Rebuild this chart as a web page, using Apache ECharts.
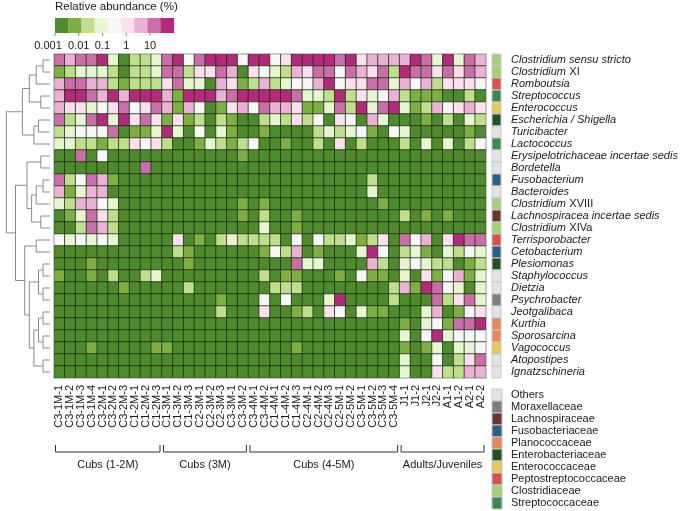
<!DOCTYPE html>
<html><head><meta charset="utf-8">
<script src="https://cdn.jsdelivr.net/npm/echarts@6/dist/echarts.min.js"></script>
<style>html,body{margin:0;padding:0;background:#fff}#c{width:685px;height:511px}</style>
</head><body><div id="c"></div>
<script>
// ---- data ----
const samples = ['C3-1M-1','C3-1M-2','C3-1M-3','C3-1M-4','C3-2M-1','C3-2M-2','C3-2M-3','C1-2M-1','C1-2M-2','C1-2M-3',
 'C1-3M-1','C1-3M-2','C1-3M-3','C2-3M-1','C2-3M-2','C2-3M-3','C3-3M-1','C3-3M-2',
 'C3-4M-1','C3-4M-2','C1-4M-1','C1-4M-2','C1-4M-3','C2-4M-1','C2-4M-2','C2-4M-3','C2-5M-1','C2-5M-2','C3-5M-1','C3-5M-2','C3-5M-3','C3-5M-4',
 'J1-1','J1-2','J2-1','J2-2','A1-1','A1-2','A2-1','A2-2'];
const groupNames = ['Cubs (1-2M)','Cubs (3M)','Cubs (4-5M)','Adults/Juveniles'];
const groupSizes = [10, 8, 14, 8];
const genera = ['Clostridium sensu stricto','Clostridium XI','Romboutsia','Streptococcus','Enterococcus','Escherichia / Shigella',
 'Turicibacter','Lactococcus','Erysipelotrichaceae incertae sedis','Bordetella','Fusobacterium','Bacteroides','Clostridium XVIII',
 'Lachnospiracea incertae sedis','Clostridium XIVa','Terrisporobacter','Cetobacterium','Plesiomonas','Staphylococcus','Dietzia',
 'Psychrobacter','Jeotgalibaca','Kurthia','Sporosarcina','Vagococcus','Atopostipes','Ignatzschineria'];
const genusFamily = ['Clostridiaceae','Clostridiaceae','Peptostreptococcaceae','Streptococcaceae','Enterococcaceae','Enterobacteriaceae',
 'Others','Streptococcaceae','Others','Others','Fusobacteriaceae','Others','Clostridiaceae',
 'Lachnospiraceae','Clostridiaceae','Peptostreptococcaceae','Fusobacteriaceae','Enterobacteriaceae','Others','Others',
 'Moraxellaceae','Others','Planococcaceae','Planococcaceae','Enterococcaceae','Others','Others'];
const families = ['Others','Moraxellaceae','Lachnospiraceae','Fusobacteriaceae','Planococcaceae','Enterobacteriaceae','Enterococcaceae','Peptostreptococcaceae','Clostridiaceae','Streptococcaceae'];
const familyColors = ['#e2e2e2','#7d7d7d','#6e3232','#2d5e89','#e8875a','#22502b','#e6c85c','#d8514f','#a8cd76','#3c8a51'];
// abundance class per genus (rows) x sample (cols): 0 = <0.001 % ... 8 = highest (colour bins of the legend)
const abundance = [
 [7,6,7,7,8,3,0,2,2,3,7,8,4,7,8,8,8,4,8,8,4,5,8,8,8,8,7,8,5,6,6,6,6,8,7,3,8,3,7,6],
 [1,2,3,3,3,2,0,2,2,3,7,7,2,5,5,7,6,0,5,4,3,2,6,5,7,7,4,7,6,5,7,2,8,7,7,5,7,5,7,6],
 [6,7,7,6,6,2,1,2,2,2,5,7,3,3,0,6,5,1,2,6,2,3,4,4,6,8,4,5,5,7,7,3,6,4,6,2,5,5,5,4],
 [6,8,8,7,6,8,6,8,8,8,6,1,8,8,8,6,7,8,8,8,8,8,7,3,3,2,8,2,5,3,4,6,2,1,1,1,0,0,2,0],
 [6,5,5,3,4,5,7,4,5,7,6,1,6,4,0,1,5,6,4,7,6,6,5,1,1,3,7,2,8,3,7,8,3,1,2,6,4,5,6,5],
 [7,2,3,7,8,3,8,5,7,5,1,5,1,2,0,2,1,0,0,2,3,2,5,2,4,0,5,4,0,6,3,0,0,0,1,0,2,0,3,2],
 [2,3,4,4,4,7,0,1,1,3,8,3,0,4,0,3,1,0,0,1,0,0,0,0,2,3,2,3,4,1,0,4,3,0,0,0,0,0,1,0],
 [3,3,2,2,1,2,2,5,4,5,2,0,0,1,3,2,1,2,4,0,0,1,0,0,2,0,5,0,2,0,0,0,2,0,3,0,3,0,2,4],
 [0,0,7,0,4,0,0,0,0,0,0,0,0,0,0,0,0,1,0,0,0,0,0,0,0,0,0,0,0,0,0,0,0,0,0,0,0,0,0,0],
 [0,0,0,0,0,0,0,0,7,0,0,0,0,0,0,0,0,0,0,0,0,0,0,0,0,0,0,0,0,0,0,0,0,0,0,0,0,0,0,0],
 [7,2,4,7,6,1,0,0,0,0,0,0,0,0,0,0,0,0,0,0,0,0,0,0,0,0,0,0,0,2,0,0,0,0,0,0,0,0,0,0],
 [6,1,3,6,6,0,0,0,0,0,0,0,0,0,0,0,0,0,0,0,0,0,0,0,0,0,0,0,0,3,0,0,0,0,0,0,0,0,0,0],
 [3,2,6,6,4,3,0,0,0,0,0,0,0,0,0,0,0,1,0,1,0,0,0,0,0,0,0,0,0,0,1,0,0,0,0,0,0,0,0,0],
 [0,1,3,7,5,2,0,0,0,0,0,0,0,0,0,0,0,1,0,2,0,0,1,0,0,0,0,0,0,0,0,0,2,0,1,0,1,0,0,0],
 [0,0,2,7,6,2,0,0,0,0,0,0,0,0,0,0,0,0,0,3,0,0,1,0,0,0,0,0,0,0,0,0,0,0,0,0,0,0,0,0],
 [4,3,4,3,4,3,0,0,0,0,0,5,0,1,0,2,3,2,2,2,2,0,4,0,4,2,2,3,1,2,5,0,7,4,6,0,5,8,7,7],
 [0,0,0,0,0,0,0,0,0,0,0,2,1,0,0,0,0,0,0,1,4,2,6,0,1,0,0,0,3,8,4,0,2,3,1,0,3,2,4,3],
 [0,0,0,1,0,0,0,0,0,0,0,0,1,0,0,0,0,0,0,0,0,0,7,3,3,0,0,0,0,6,2,0,3,4,3,2,2,0,1,2],
 [1,0,0,1,0,2,0,0,2,3,0,0,0,0,0,0,0,0,0,2,0,1,1,0,0,0,1,0,4,1,1,0,3,0,5,1,4,6,1,3],
 [0,0,0,0,0,0,1,0,0,0,0,0,2,0,0,0,0,0,0,0,2,2,2,0,0,0,0,0,0,0,0,2,6,1,8,7,4,3,0,3],
 [0,0,0,0,0,0,0,0,0,0,0,0,0,0,0,1,0,0,0,4,0,4,0,0,0,3,8,0,0,0,0,2,0,0,0,7,2,5,7,3],
 [0,0,0,0,0,0,0,0,0,0,0,0,0,0,0,2,0,0,0,5,0,0,1,2,0,5,4,0,3,1,1,0,0,0,3,6,0,1,4,5],
 [0,0,0,0,0,0,0,0,0,0,0,0,0,0,0,0,0,0,0,0,0,0,0,0,0,0,0,0,0,0,0,0,1,0,3,4,1,7,7,8],
 [0,0,0,0,0,0,0,0,0,0,0,0,0,0,0,0,0,0,0,0,0,0,0,0,0,0,0,0,0,0,0,0,3,0,4,8,3,4,4,4],
 [0,0,0,1,0,0,0,0,0,1,1,0,0,0,0,0,0,0,0,0,0,0,1,0,0,0,0,0,0,0,0,0,1,0,1,3,0,3,3,4],
 [0,0,0,0,0,0,0,0,0,0,0,0,0,0,0,0,0,0,0,0,0,0,0,0,0,0,0,0,0,0,0,0,3,0,0,4,0,2,5,7],
 [0,0,0,0,0,0,0,0,0,0,0,0,0,0,0,0,0,0,0,0,0,0,0,0,0,0,0,0,0,0,0,0,3,0,0,5,2,2,6,6]
];
const palette = ['#4f8a2f','#7fae45','#c0df8e','#e8f5d3','#f7f7f7','#fde0ef','#ebb1d6','#c96ea8','#b22a7b'];
const legendTicks = ['0.001', '0.01', '0.1', '1', '10'];
const legendMax = 100;
// dendrogram merges: [nodeA, nodeB, height 0..1]; leaves are row indices 0..26, new nodes numbered from 27
const dendroMerges = [
 [0,1,0.15],[2,27,0.3],[3,4,0.2],[28,29,0.45],[5,6,0.25],[31,7,0.35],[30,32,0.6],
 [8,9,0.2],[10,11,0.15],[35,12,0.3],[13,14,0.2],[36,37,0.4],[34,38,0.5],
 [15,16,0.3],[17,18,0.15],[19,20,0.15],[41,42,0.25],[21,22,0.15],[23,24,0.15],[44,45,0.25],[25,26,0.15],[46,47,0.35],[43,48,0.45],[40,49,0.55],[39,50,0.75],[33,51,0.95]
];

// ---- chart ----
const FONT = 'Liberation Sans, Arial, sans-serif';
const chart = echarts.init(document.getElementById('c'), null, {renderer:'canvas'});
const heatData = [];
abundance.forEach((row, r) => row.forEach((v, c) => heatData.push([c, r, v])));
const famData = genera.map((g, r) => [0, r, families.indexOf(genusFamily[r])]);

function genusLabel(v){
  const m = v.match(/^Clostridium (X[A-Za-z]+)$/);
  if (m) return '{i|Clostridium} {n|' + m[1] + '}';
  return '{i|' + v + '}';
}

const GL = 54, GT = 54, GW = 432, GH = 324;
chart.setOption({
  animation:false,
  grid:[{left:GL, top:GT, width:GW, height:GH},{left:492, top:GT, width:9, height:GH}],
  xAxis:[
    {type:'category', gridIndex:0, data:samples, axisLine:{show:false}, axisTick:{show:false},
     axisLabel:{rotate:90, interval:0, fontSize:11, color:'#1a1a1a', margin:7, fontFamily:FONT}},
    {type:'category', gridIndex:1, data:['family'], show:false}
  ],
  yAxis:[
    {type:'category', gridIndex:0, data:genera, inverse:true, show:false},
    {type:'category', gridIndex:1, data:genera, inverse:true, position:'right',
     axisLine:{show:false}, axisTick:{show:false},
     axisLabel:{interval:0, margin:10, formatter:genusLabel,
       rich:{i:{fontStyle:'italic', fontSize:11, color:'#1a1a1a', fontFamily:FONT},
             n:{fontSize:11, color:'#1a1a1a', fontFamily:FONT}}}}
  ],
  visualMap:{show:false, type:'piecewise', seriesIndex:0, dimension:2,
    pieces: palette.map((c,k)=>({value:k, color:c}))},
  series:[
    {type:'heatmap', xAxisIndex:0, yAxisIndex:0, data:heatData,
     itemStyle:{borderColor:'rgba(25,45,15,0.75)', borderWidth:1}},
    {type:'custom', xAxisIndex:1, yAxisIndex:1, data:famData,
     renderItem:function(params, api){
       const p = api.coord([api.value(0), api.value(1)]);
       const s = api.size([1,1]);
       return {type:'rect', shape:{x:p[0]-s[0]/2, y:p[1]-s[1]/2, width:s[0], height:s[1]},
         style:{fill:familyColors[api.value(2)], stroke:'#c8c8c8', lineWidth:1}};
     }}
  ]
});

// ---- decorations computed from axes ----
const g = [];
g.push({type:'rect', shape:{x:GL-0.5, y:GT-0.5, width:GW+1, height:GH+1}, style:{fill:null, stroke:'#c8c8c8', lineWidth:1}, z:10});
// colour legend
const LX = 55, LW = 118.8, LY = 18, LH = 15;
palette.forEach((c,k)=>{
  g.push({type:'rect', shape:{x:LX + k*LW/9, y:LY, width:LW/9+0.3, height:LH}, style:{fill:c}});
});
g.push({type:'text', left:55, top:1, style:{text:'Relative abundance (%)', fontSize:11.5, fontFamily:FONT, fill:'#1a1a1a'}});
legendTicks.forEach((t, i)=>{
  const x = LX + (Math.log10(+t)+3)/(Math.log10(legendMax)+3)*LW;
  g.push({type:'line', shape:{x1:x, y1:LY+LH, x2:x, y2:LY+LH+3}, style:{stroke:'#888', lineWidth:1}});
  g.push({type:'text', x: i === 0 ? x - 7 : x, y:45.5, style:{text:t, fontSize:11, fontFamily:FONT, fill:'#1a1a1a', align:'center', verticalAlign:'middle'}});
});
// group brackets
let start = 0;
groupNames.forEach((name, gi)=>{
  const a = chart.convertToPixel({xAxisIndex:0}, samples[start]);
  const b = chart.convertToPixel({xAxisIndex:0}, samples[start+groupSizes[gi]-1]);
  const half = GW/samples.length/2;
  const x1 = a - half + 1.5, x2 = b + half - 2;
  const yb = 452;
  g.push({type:'polyline', shape:{points:[[x1,yb-7],[x1,yb],[x2,yb],[x2,yb-7]]}, style:{stroke:'#333', lineWidth:1, fill:null}});
  g.push({type:'text', x:(x1+x2)/2, y:yb+13, style:{text:name, fontSize:11, fontFamily:FONT, fill:'#1a1a1a', align:'center', verticalAlign:'middle'}});
  start += groupSizes[gi];
});
// family legend
families.forEach((f,i)=>{
  const y = 389 + i*12;
  g.push({type:'rect', shape:{x:492, y:y, width:10, height:12}, style:{fill:familyColors[i], stroke:'#c8c8c8', lineWidth:1}});
  g.push({type:'text', x:511, y:y+6, style:{text:f, fontSize:11, fontFamily:FONT, fill:'#1a1a1a', verticalAlign:'middle'}});
});
// dendrogram
const nodeY = {}, nodeH = {};
genera.forEach((gn, r)=>{ nodeY[r] = chart.convertToPixel({yAxisIndex:0}, gn); nodeH[r] = 0; });
const DX0 = 50, DW = 46;
const hx = h => DX0 - h*DW;
dendroMerges.forEach((m, i)=>{
  const id = genera.length + i;
  const [a, b, h] = m;
  const x = hx(h);
  g.push({type:'polyline', shape:{points:[[hx(nodeH[a]), nodeY[a]],[x, nodeY[a]],[x, nodeY[b]],[hx(nodeH[b]), nodeY[b]]]},
    style:{stroke:'#8a8a8a', lineWidth:1, fill:null}});
  nodeY[id] = (nodeY[a]+nodeY[b])/2; nodeH[id] = h;
});
chart.setOption({graphic:g});
</script></body></html>
